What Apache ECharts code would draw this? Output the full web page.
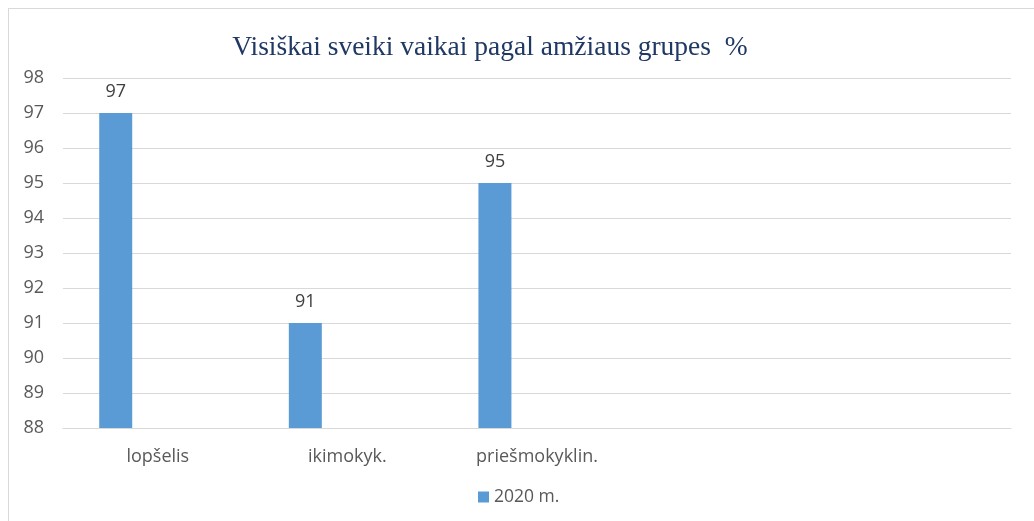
<!DOCTYPE html>
<html>
<head>
<meta charset="utf-8">
<script src="https://cdn.jsdelivr.net/npm/echarts@6/dist/echarts.min.js"></script>
<style>
  html, body { margin: 0; padding: 0; background: #fff; }
  #chart { position: absolute; left: 8px; top: 8px; width: 1026px; height: 513px;
           border-left: 1px solid #d9d9d9; border-top: 1px solid #d9d9d9; box-sizing: border-box; }
</style>
</head>
<body>
<div id="chart"></div>
<script>
// duomenys
var categories = ['lopšelis', 'ikimokyk.', 'priešmokyklin.', '', ''];
var values2020 = [97, 91, 95, null, null];
var yTicks = [88, 89, 90, 91, 92, 93, 94, 95, 96, 97, 98];

var myChart = echarts.init(document.getElementById('chart'));

var option = {
    animation: false,
    title: {
        text: 'Visiškai sveiki vaikai pagal amžiaus grupes  %',
        left: 476,
        top: 20,
        textAlign: 'center',
        textStyle: {
            fontFamily: '"Liberation Serif", "DejaVu Serif", serif',
            fontWeight: 'normal',
            fontSize: 27.5,
            color: '#1f3864'
        }
    },
    grid: { left: 54, right: 23, top: 69, bottom: 93, containLabel: false },
    legend: {
        bottom: 10,
        left: 464,
        itemWidth: 11,
        itemHeight: 11,
        itemGap: 6,
        icon: 'rect',
        data: ['2020 m.'],
        textStyle: { fontFamily: '"Open Sans", sans-serif', fontSize: 17.5, color: '#595959' }
    },
    xAxis: {
        type: 'category',
        data: categories,
        axisLine: { lineStyle: { color: '#d9d9d9', width: 1 } },
        axisTick: { show: false },
        axisLabel: {
            margin: 20,
            interval: 0,
            fontFamily: '"Open Sans", sans-serif',
            fontSize: 18,
            color: '#595959'
        }
    },
    yAxis: {
        type: 'value',
        min: yTicks[0],
        max: yTicks[yTicks.length - 1],
        interval: 1,
        axisLine: { show: false },
        axisTick: { show: false },
        axisLabel: {
            margin: 19,
            fontFamily: '"Open Sans", sans-serif',
            fontSize: 18,
            color: '#595959'
        },
        splitLine: { lineStyle: { color: '#d9d9d9', width: 1 } }
    },
    series: [
        {
            name: '2020 m.',
            type: 'bar',
            barWidth: 33,
            barGap: '155%',
            data: values2020,
            itemStyle: { color: '#5b9bd5' },
            label: {
                show: true,
                position: 'top',
                distance: 12,
                fontFamily: '"Open Sans", sans-serif',
                fontSize: 18,
                color: '#404040'
            }
        },
        {
            name: 'tuscia',
            type: 'bar',
            barWidth: 33,
            data: [null, null, null, null, null]
        }
    ]
};

myChart.setOption(option);

window.addEventListener("resize", function(){
    myChart.resize();
});
</script>
</body>
</html>
